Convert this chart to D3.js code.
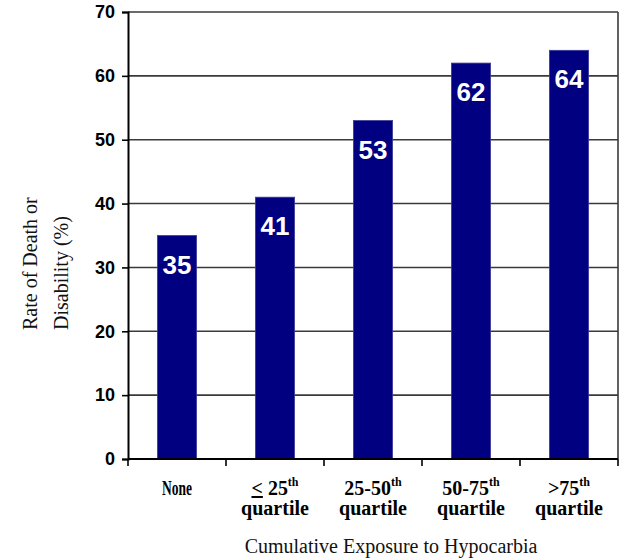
<!DOCTYPE html>
<html>
<head>
<meta charset="utf-8">
<title>Hypocarbia</title>
<script src="https://d3js.org/d3.v7.min.js"></script>
<style>
body { margin: 0; background: #fff; }
.tick-y { font-family: "Liberation Sans", Arial, sans-serif; font-weight: bold; font-size: 18px; fill: #000; }
.cat { font-family: "Liberation Serif", "Times New Roman", serif; font-weight: bold; font-size: 20px; fill: #000; }
.title { font-family: "Liberation Serif", "Times New Roman", serif; font-size: 20px; fill: #111; }
.val { font-family: "Liberation Sans", Arial, sans-serif; font-weight: bold; font-size: 26px; fill: #fff; }
</style>
</head>
<body>
<script>
// data
var categories = ["None", "<= 25th", "25-50th", "50-75th", ">75th"];
var rates = [35, 41, 53, 62, 64];
var yTicks = [0, 10, 20, 30, 40, 50, 60, 70];
// label lines: [prefix, superscript] and second line
var catLine1 = [["None", ""], ["< 25", "th"], ["25-50", "th"], ["50-75", "th"], [">75", "th"]];
var catLine2 = ["", "quartile", "quartile", "quartile", "quartile"];

var W = 623, H = 560;
var mLeft = 128, mRight = 618, mTop = 12, mBottom = 459;

var svg = d3.select("body").append("svg")
    .attr("width", W)
    .attr("height", H);

var x = d3.scaleBand()
    .domain(categories)
    .range([mLeft, mRight])
    .paddingInner(0.6)
    .paddingOuter(0.3);

var y = d3.scaleLinear()
    .domain([0, 70])
    .range([mBottom, mTop]);

// gridlines
svg.selectAll(".grid")
    .data(yTicks.filter(function(d) { return d > 0; }))
  .enter().append("line")
    .attr("x1", mLeft).attr("x2", mRight)
    .attr("y1", function(d) { return y(d); })
    .attr("y2", function(d) { return y(d); })
    .attr("stroke", "#3a3a3a")
    .attr("stroke-width", 1.6);

// right border
svg.append("line")
    .attr("x1", mRight).attr("x2", mRight)
    .attr("y1", y(70)).attr("y2", y(0))
    .attr("stroke", "#3a3a3a").attr("stroke-width", 1.6);

// bars
svg.selectAll(".bar")
    .data(rates)
  .enter().append("rect")
    .attr("x", function(d, i) { return x(categories[i]); })
    .attr("width", x.bandwidth())
    .attr("y", function(d) { return y(d); })
    .attr("height", function(d) { return y(0) - y(d); })
    .attr("fill", "#000080")
    .attr("stroke", "#3c3c9a")
    .attr("stroke-width", 0.8);

// value labels
svg.selectAll(".val")
    .data(rates)
  .enter().append("text")
    .attr("class", "val")
    .attr("text-anchor", "middle")
    .attr("x", function(d, i) { return x(categories[i]) + x.bandwidth() / 2; })
    .attr("y", function(d) { return y(d) + 38; })
    .text(function(d) { return d; });

// y axis
var yAxis = svg.append("g")
    .attr("transform", "translate(" + mLeft + ",0)")
    .call(d3.axisLeft(y).tickValues(yTicks).tickSize(6).tickPadding(7));
yAxis.select(".domain").attr("stroke", "#000").attr("stroke-width", 2);
yAxis.selectAll(".tick line").attr("stroke", "#000").attr("stroke-width", 1.6);
yAxis.selectAll(".tick text").attr("class", "tick-y").attr("font-size", null).attr("font-family", null).attr("fill", null);
yAxis.attr("font-size", null).attr("font-family", null);

// x axis line + ticks at band edges
svg.append("line")
    .attr("x1", mLeft).attr("x2", mRight)
    .attr("y1", mBottom).attr("y2", mBottom)
    .attr("stroke", "#000").attr("stroke-width", 2);
var edges = categories.map(function(c) { return x(c) - x.step() * x.paddingInner() / 2; });
edges.push(mRight);
edges[0] = mLeft;
svg.selectAll(".xtick")
    .data(edges)
  .enter().append("line")
    .attr("x1", function(d) { return d; }).attr("x2", function(d) { return d; })
    .attr("y1", mBottom).attr("y2", mBottom + 7)
    .attr("stroke", "#000").attr("stroke-width", 1.6);

// category labels
var cat = svg.selectAll(".cat")
    .data(categories)
  .enter().append("g")
    .attr("transform", function(d) { return "translate(" + (x(d) + x.bandwidth() / 2) + ",0)"; });

cat.each(function(d, i) {
  var g = d3.select(this);
  var t1 = g.append("text")
      .attr("class", "cat")
      .attr("text-anchor", "middle")
      .attr("y", 495);
  if (i === 0) {
    t1.attr("font-size", 17).attr("textLength", 30).attr("lengthAdjust", "spacingAndGlyphs").text(catLine1[i][0]);
  } else if (i === 1) {
    t1.append("tspan").attr("text-decoration", "underline").text("<");
    t1.append("tspan").text(" 25");
    t1.append("tspan").attr("font-size", 12).attr("dy", -9).text(catLine1[i][1]);
  } else {
    t1.append("tspan").text(catLine1[i][0]);
    t1.append("tspan").attr("font-size", 12).attr("dy", -9).text(catLine1[i][1]);
  }
  if (catLine2[i]) {
    g.append("text")
      .attr("class", "cat")
      .attr("text-anchor", "middle")
      .attr("y", 515)
      .text(catLine2[i]);
  }
});

// axis titles
svg.append("text")
    .attr("class", "title")
    .attr("text-anchor", "middle")
    .attr("x", 391).attr("y", 553)
    .text("Cumulative Exposure to Hypocarbia");

var yt = svg.append("text")
    .attr("class", "title")
    .attr("font-size", 21)
    .attr("text-anchor", "start")
    .attr("transform", "translate(37,330) rotate(-90)");
yt.append("tspan").attr("x", 0).attr("y", 0).text("Rate of Death or");
yt.append("tspan").attr("x", 0).attr("y", 31).text("Disability (%)");
</script>
</body>
</html>
